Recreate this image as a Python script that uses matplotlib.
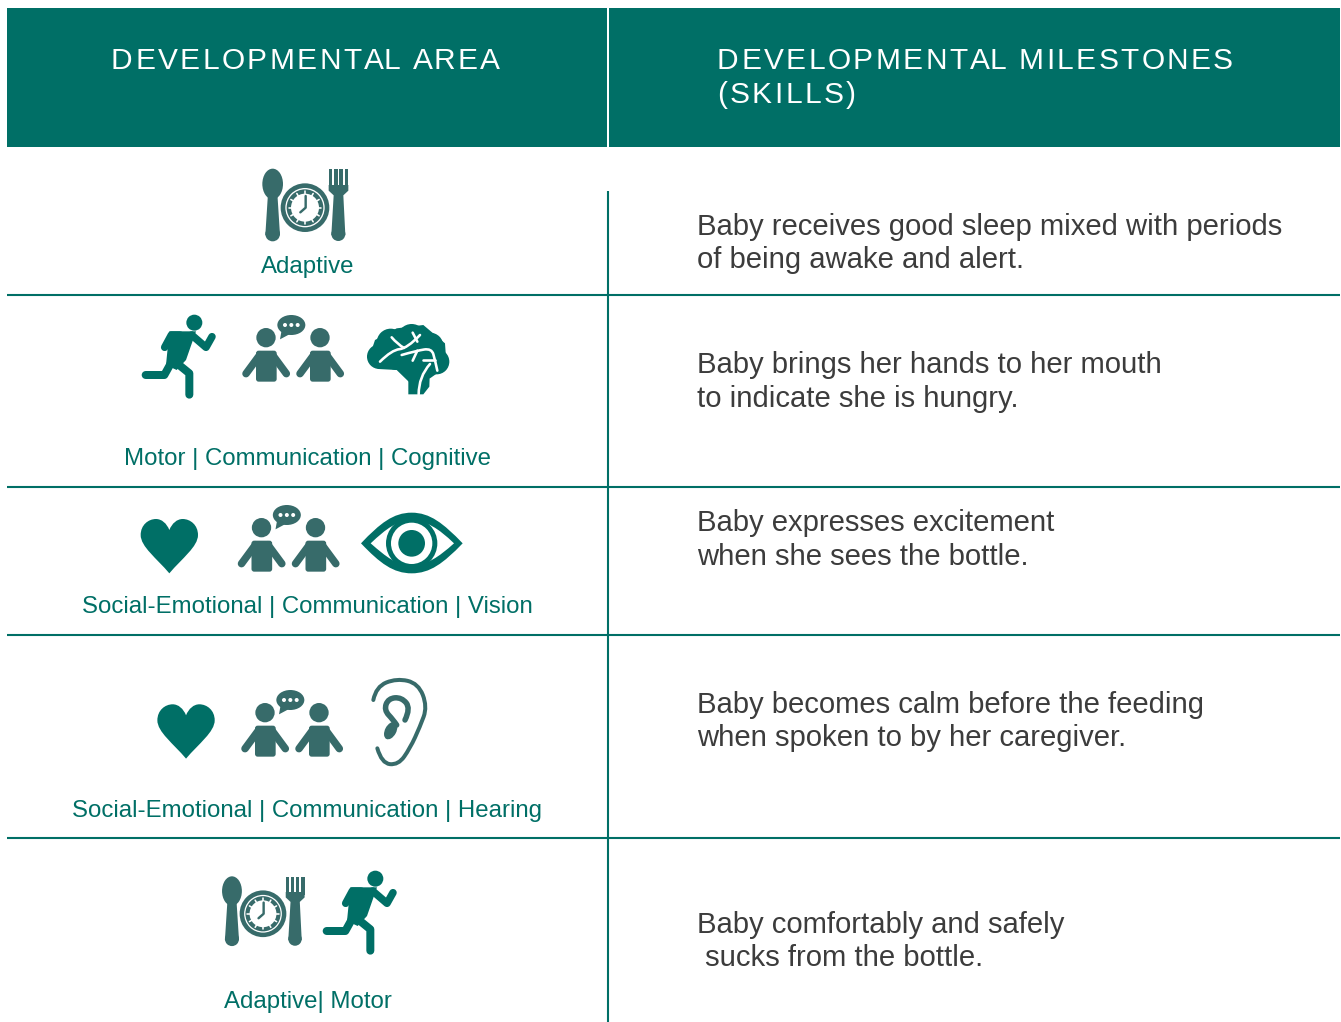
import numpy as np
from matplotlib import pyplot as plt
from matplotlib.patches import Circle, Ellipse, PathPatch, Polygon, Rectangle, FancyBboxPatch
from matplotlib.path import Path
from matplotlib.text import Text
from matplotlib.transforms import Affine2D

plt.rcParams['font.family'] = ['Liberation Sans', 'DejaVu Sans']

# table contents
headers = ["DEVELOPMENTAL AREA", "DEVELOPMENTAL MILESTONES", "(SKILLS)"]
area_labels = ["Adaptive",
               "Motor | Communication | Cognitive",
               "Social-Emotional | Communication | Vision",
               "Social-Emotional | Communication | Hearing",
               "Adaptive| Motor"]
skills = [["Baby receives good sleep mixed with periods", "of being awake and alert."],
          ["Baby brings her hands to her mouth", "to indicate she is hungry."],
          ["Baby expresses excitement", "when she sees the bottle."],
          ["Baby becomes calm before the feeding", "when spoken to by her caregiver."],
          ["Baby comfortably and safely", " sucks from the bottle."]]

# layout, in pixels of the picture
label_base = [272.5, 465, 613, 817, 1008]
skill_base = [(235, 268.5), (373, 407), (531, 565), (713, 746.5), (933, 965.5)]
row_lines = [295, 487, 635, 838]

TEAL = '#006f66'
SLATE = '#376b6a'
GREY = '#3c3c3c'


class SpacedText(Text):
    # matplotlib has no letter spacing, so draw the string letter by letter
    tracking = 2.45

    def draw(self, renderer):
        s = self.get_text()
        prop = self.get_fontproperties()
        gc = renderer.new_gc()
        gc.set_foreground(self.get_color())
        gc.set_antialiased(True)
        x, y = self.get_transform().transform(self.get_position())
        y = renderer.get_canvas_width_height()[1] - y
        for i, ch in enumerate(s):
            w = renderer.get_text_width_height_descent(s[:i], prop, False)[0] if i else 0
            renderer.draw_text(gc, x + w + i * self.tracking, y, ch, prop, 0)
        gc.restore()


fig = plt.figure(figsize=(13.41, 10.22), dpi=100)
ax = fig.add_axes([0, 0, 1, 1])
ax.set_xlim(0, 1341)
ax.set_ylim(1022, 0)
ax.axis('off')


def at(ox, oy, s=1 / 3):
    # icon shapes are written in 3x zoom pixels, y downwards
    return Affine2D().scale(s).translate(ox, oy) + ax.transData


def stroke(pts, tr, color, w, smooth=False):
    pts = np.array(pts, dtype=float)
    if smooth and len(pts) > 2:
        verts = [pts[0]]
        codes = [Path.MOVETO]
        for i in range(1, len(pts) - 1):
            end = pts[i + 1] if i == len(pts) - 2 else (pts[i] + pts[i + 1]) / 2
            verts += [pts[i], end]
            codes += [Path.CURVE3, Path.CURVE3]
        path = Path(verts, codes)
    else:
        path = Path(pts)
    ax.add_patch(PathPatch(path, fc='none', ec=color, lw=w * 0.72, capstyle='round',
                           joinstyle='round', transform=tr))


def curve_shape(start, curves, tr, color):
    verts = [start]
    codes = [Path.MOVETO]
    for c in curves:
        verts += list(c)
        codes += [Path.CURVE4] * 3
    ax.add_patch(PathPatch(Path(verts, codes), fc=color, ec='none', transform=tr))


def heart(ox, oy):
    tr = at(ox, oy)
    curve_shape((118, 220), [((80, 175), (32, 140), (32, 105)),
                             ((32, 75), (55, 57), (78, 57)),
                             ((95, 57), (110, 70), (118, 90)),
                             ((126, 70), (141, 57), (158, 57)),
                             ((181, 57), (204, 75), (204, 105)),
                             ((204, 140), (156, 175), (118, 220))], tr, TEAL)


def eye(ox, oy):
    tr = at(ox, oy)
    curve_shape((693, 130), [((750, 70), (790, 38), (845, 38)),
                             ((900, 38), (940, 70), (998, 130)),
                             ((940, 190), (900, 220), (845, 220)),
                             ((790, 220), (750, 190), (693, 130))], tr, TEAL)
    curve_shape((722, 130), [((770, 85), (800, 62), (845, 62)),
                             ((890, 62), (925, 85), (972, 130)),
                             ((925, 172), (890, 196), (845, 196)),
                             ((800, 196), (770, 172), (722, 130))], tr, 'white')
    for r, c in [(77, TEAL), (62, 'white'), (40, TEAL)]:
        ax.add_patch(Circle((845, 130), r, fc=c, ec='none', transform=tr))


def ear(ox, oy):
    tr = at(ox, oy)
    stroke([(730, 600), (738, 560), (800, 535), (865, 550), (892, 620), (870, 680),
            (840, 745), (805, 795), (755, 790), (742, 745)], tr, SLATE, 4, smooth=True)
    stroke([(825, 660), (842, 625), (815, 592), (775, 595), (762, 630), (790, 660), (800, 675)],
           tr, SLATE, 5.5, smooth=True)
    ax.add_patch(Ellipse((782, 692), 34, 56, angle=28, fc=SLATE, ec='none', transform=tr))


def people(ox, oy):
    tr = at(ox, oy)
    for dx in (0, 162):
        ax.add_patch(Circle((408 + dx, 533), 29, fc=SLATE, ec='none', transform=tr))
        ax.add_patch(FancyBboxPatch((386 + dx, 580), 46, 77, boxstyle='round,pad=8', fc=SLATE, ec='none',
                                    transform=tr))
        stroke([(390 + dx, 584), (348 + dx, 641)], tr, SLATE, 7.5)
        stroke([(427 + dx, 584), (469 + dx, 641)], tr, SLATE, 7.5)
    ax.add_patch(Ellipse((484, 495), 84, 60, fc=SLATE, ec='none', transform=tr))
    ax.add_patch(Polygon([(455, 510), (480, 522), (450, 538)], fc=SLATE, ec='none', transform=tr))
    for x in (465, 484, 503):
        ax.add_patch(Circle((x, 495), 6, fc='white', ec='none', transform=tr))


def runner(ox, oy):
    tr = at(ox, oy)
    ax.add_patch(Circle((193, 488), 24, fc=TEAL, ec='none', transform=tr))
    ax.add_patch(Polygon([(118, 514), (198, 514), (168, 600), (140, 630), (108, 615)], fc=TEAL, ec='none',
                         transform=tr))
    stroke([(150, 525), (124, 525), (104, 562)], tr, TEAL, 7.5)
    stroke([(185, 525), (228, 562), (246, 530)], tr, TEAL, 7.5)
    stroke([(128, 600), (103, 645), (47, 645)], tr, TEAL, 8)
    stroke([(135, 605), (178, 640), (178, 704)], tr, TEAL, 8)


def brain(ox, oy):
    tr = at(ox, oy)
    for x, y, r in [(748, 590, 37), (782, 548, 42), (845, 535, 43), (900, 558, 40),
                    (920, 605, 38), (850, 590, 60), (800, 590, 40), (880, 620, 30)]:
        ax.add_patch(Circle((x, y), r, fc=TEAL, ec='none', transform=tr))
    ax.add_patch(Polygon([(715, 600), (745, 627), (800, 630), (836, 665), (900, 655), (950, 620),
                          (945, 550), (880, 495), (800, 505), (735, 540)],
                         fc=TEAL, ec='none', transform=tr))
    ax.add_patch(Polygon([(835, 703), (835, 620), (900, 620), (898, 680), (880, 703)], fc=TEAL, ec='none',
                         transform=tr))
    for pts in [[(750, 605), (785, 570), (832, 565), (870, 525)],
                [(785, 532), (802, 552), (822, 564)], [(848, 518), (862, 545)],
                [(815, 585), (860, 572), (905, 565), (915, 600), (922, 632)],
                [(862, 572), (848, 602)], [(878, 600), (915, 600)],
                [(866, 703), (866, 650), (900, 612)]]:
        stroke(pts, tr, 'white', 2.6, smooth=True)


def meal(ox, oy, s=1 / 3):
    tr = at(ox, oy, s)
    # spoon
    ax.add_patch(Ellipse((428, 72), 62, 92, fc=SLATE, ec='none', transform=tr))
    ax.add_patch(Polygon([(414, 100), (442, 100), (450, 225), (406, 225)], fc=SLATE, ec='none', transform=tr))
    ax.add_patch(Circle((428, 222), 22, fc=SLATE, ec='none', transform=tr))
    # fork
    for x in (596, 612, 628, 644):
        ax.add_patch(Rectangle((x, 28), 11, 55, fc=SLATE, ec='none', transform=tr))
    ax.add_patch(Polygon([(596, 75), (655, 75), (655, 92), (640, 106), (646, 225), (604, 225), (611, 106), (596, 92)],
                         fc=SLATE, ec='none', transform=tr))
    ax.add_patch(Circle((625, 222), 21, fc=SLATE, ec='none', transform=tr))
    # plate with clock
    for r, c in [(73, SLATE), (59, 'white'), (55, SLATE), (42, 'white')]:
        ax.add_patch(Circle((525, 143), r, fc=c, ec='none', transform=tr))
    for a in np.arange(0, 360, 30):
        t = np.radians(a)
        stroke([(525 + 40 * np.cos(t), 143 + 40 * np.sin(t)), (525 + 49 * np.cos(t), 143 + 49 * np.sin(t))],
               tr, 'white', 1.6)
    stroke([(527, 108), (527, 143), (511, 157)], tr, SLATE, 2.4)


# header band, split by a white gap
ax.add_patch(Rectangle((7, 8), 600, 139, fc=TEAL, ec='none'))
ax.add_patch(Rectangle((609, 8), 731, 139, fc=TEAL, ec='none'))
for txt, x, y in zip(headers, [111, 717, 717], [69, 69, 103]):
    t = SpacedText(x, y, txt, color='white', fontsize=21.5, va='baseline', ha='left')
    ax.add_artist(t)
    t.set_transform(ax.transData)

# rules
for y in row_lines:
    ax.plot([7, 1340], [y, y], color=TEAL, lw=1.5, solid_capstyle='butt')
ax.plot([608, 608], [191, 1022], color=TEAL, lw=1.5, solid_capstyle='butt')

# icons
meal(130, 160)
runner(130, 160)
people(130, 160)
brain(130, 160)
heart(130, 500)
people(125.5, 350)
eye(130, 500)
heart(146.7, 685.3)
people(129, 535)
ear(130, 500)
meal(95, 868, 0.32)
runner(311, 716)

# text
for lab, y in zip(area_labels, label_base):
    ax.text(307.5, y, lab, color=TEAL, fontsize=17.3, ha='center', va='baseline')
for lines, ys in zip(skills, skill_base):
    for line, y in zip(lines, ys):
        ax.text(697, y, line, color=GREY, fontsize=21.05, ha='left', va='baseline')

fig.savefig('out.png', dpi=100)
